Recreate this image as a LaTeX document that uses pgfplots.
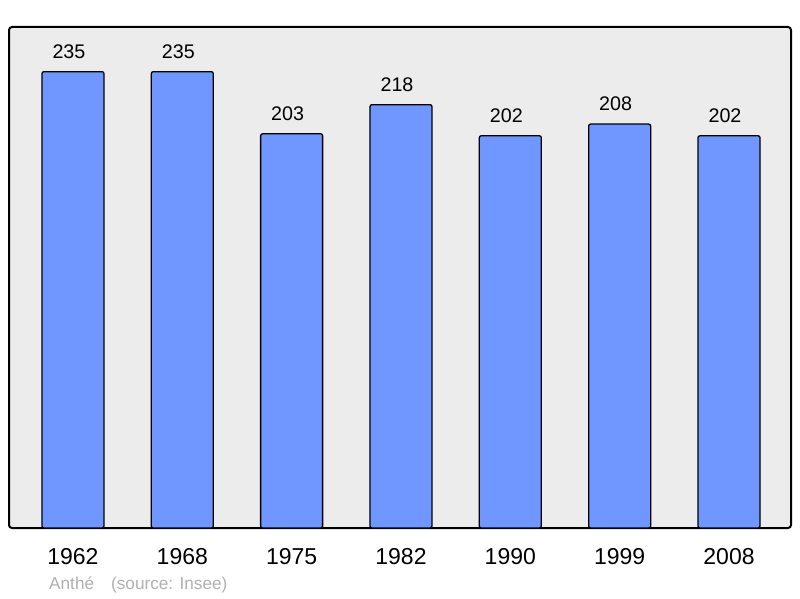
\documentclass[border=0pt]{standalone}
\usepackage{pgfplots}
\pgfplotsset{compat=1.18}
\usepackage{fontspec}
\setmainfont{Liberation Sans}
\definecolor{bgc}{RGB}{236,236,236}
\definecolor{barc}{RGB}{112,150,255}
\definecolor{srcc}{RGB}{176,176,176}
\begin{document}
\begin{tikzpicture}
\begin{axis}[
  scale only axis,
  width=782pt, height=501pt,
  xmin=-0.585, xmax=6.567,
  ymin=0, ymax=258,
  axis background/.style={fill=bgc},
  axis line style={line width=2pt, rounded corners=3pt},
  xtick={0,1,2,3,4,5,6},
  xticklabels={1962,1968,1975,1982,1990,1999,2008},
  ytick=\empty,
  major tick length=0pt,
  xticklabel style={font=\fontsize{23}{26}\selectfont, anchor=base, yshift=-36pt},
  /pgf/number format/assume math mode=true,
  nodes near coords,
  every node near coord/.append style={font=\fontsize{19.7}{22}\selectfont, anchor=center, yshift=20pt, xshift=-4pt},
  clip=false,
]
\addplot[ybar, bar width=62pt, bar shift=0pt, fill=barc, draw=black, line width=1.3pt, rounded corners=2pt]
  coordinates {(0,235) (1,235) (2,203) (3,218) (4,202) (5,208) (6,202)};
\node[anchor=base west, text=srcc, font=\fontsize{17.2}{19}\selectfont, inner sep=0pt]
  at (rel axis cs:0,0) [xshift=40pt, yshift=-61pt] {Anthé\hspace{17pt}(source: Insee)};
\end{axis}
\path ([shift={(-9pt,-70pt)}]current axis.south west) rectangle ([shift={(9pt,27pt)}]current axis.north east);
\end{tikzpicture}
\end{document}
